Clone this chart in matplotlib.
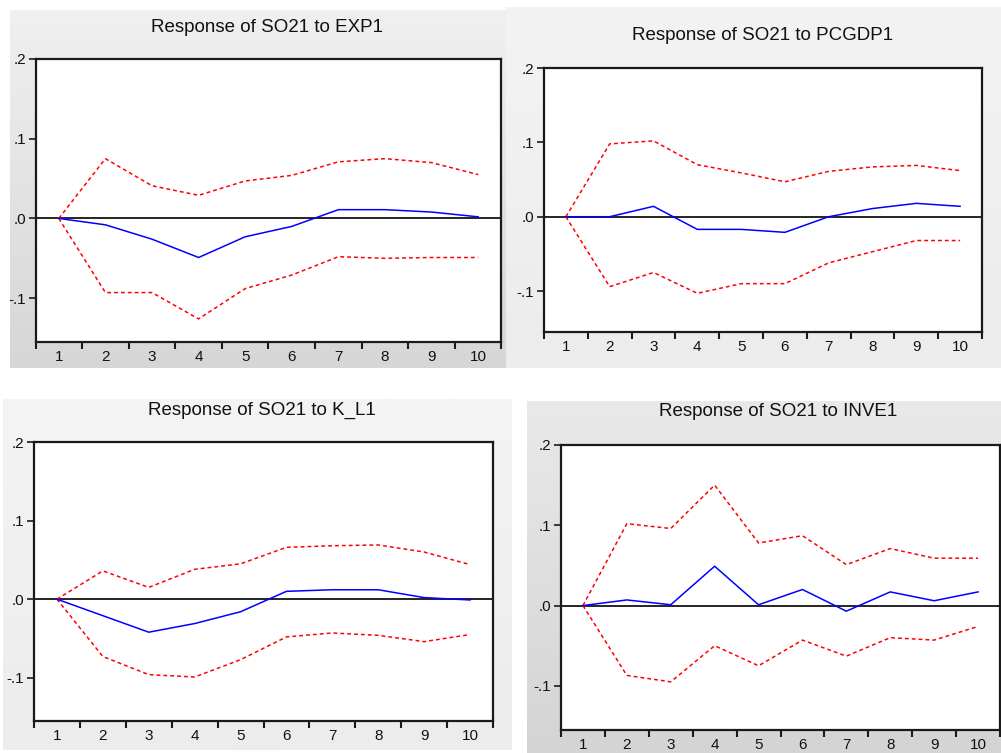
import numpy as np
import matplotlib
matplotlib.use('Agg')
import matplotlib.pyplot as plt
from matplotlib.colors import LinearSegmentedColormap
from matplotlib.patches import Rectangle

plt.rcParams['font.family'] = ['Liberation Sans', 'DejaVu Sans']

# periods 1..10
periods = [1, 2, 3, 4, 5, 6, 7, 8, 9, 10]

# response of SO21 to EXP1
exp_resp = [0.0, -0.008, -0.026, -0.049, -0.023, -0.010, 0.011, 0.011, 0.008, 0.002]
exp_upper = [0.0, 0.075, 0.041, 0.029, 0.047, 0.054, 0.071, 0.075, 0.070, 0.055]
exp_lower = [0.0, -0.093, -0.093, -0.126, -0.088, -0.071, -0.048, -0.050, -0.049, -0.049]

# response of SO21 to PCGDP1
gdp_resp = [0.0, 0.0, 0.014, -0.017, -0.017, -0.021, 0.0, 0.011, 0.018, 0.014]
gdp_upper = [0.0, 0.098, 0.102, 0.070, 0.059, 0.047, 0.061, 0.067, 0.069, 0.062]
gdp_lower = [0.0, -0.094, -0.075, -0.103, -0.090, -0.090, -0.062, -0.047, -0.032, -0.032]

# response of SO21 to K_L1
kl_resp = [0.0, -0.021, -0.042, -0.031, -0.016, 0.010, 0.012, 0.012, 0.002, -0.001]
kl_upper = [0.0, 0.036, 0.015, 0.038, 0.045, 0.066, 0.068, 0.069, 0.060, 0.044]
kl_lower = [0.0, -0.073, -0.096, -0.099, -0.077, -0.048, -0.043, -0.046, -0.054, -0.045]

# response of SO21 to INVE1
inv_resp = [0.0, 0.007, 0.001, 0.049, 0.001, 0.020, -0.007, 0.017, 0.006, 0.017]
inv_upper = [0.0, 0.102, 0.096, 0.150, 0.078, 0.087, 0.051, 0.071, 0.059, 0.059]
inv_lower = [0.0, -0.087, -0.095, -0.050, -0.075, -0.043, -0.063, -0.040, -0.043, -0.026]

titles = ['Response of SO21 to EXP1', 'Response of SO21 to PCGDP1',
          'Response of SO21 to K_L1', 'Response of SO21 to INVE1']
ytick_vals = [0.2, 0.1, 0.0, -0.1]
ytick_labels = ['.2', '.1', '.0', '-.1']

W, H = 1001, 753
fig = plt.figure(figsize=(W / 100, H / 100), dpi=100)


def px_box(l, t, r, b):
    return [l / W, 1 - b / H, (r - l) / W, (b - t) / H]


# layout of the 4 screenshots (pixels): plot box, grey background box, gradient colours, title centre
panels = [
    (titles[0], exp_resp, exp_upper, exp_lower, (35.5, 59, 501.5, 342), (10, 10, 506, 368), ('#f0f0f0', '#d6d6d6'), (267, 27)),
    (titles[1], gdp_resp, gdp_upper, gdp_lower, (544, 68, 982, 332), (506, 7, 1001, 368), ('#f3f3f3', '#ececec'), (763, 36)),
    (titles[2], kl_resp, kl_upper, kl_lower, (34, 442, 493, 721), (3, 399, 512, 750), ('#f4f4f4', '#ececec'), (262, 410)),
    (titles[3], inv_resp, inv_upper, inv_lower, (561, 445, 1000, 730), (527, 401, 1001, 753), ('#e9e9e9', '#d4d4d4'), (778, 412)),
]

grad = np.linspace(0, 1, 256).reshape(-1, 1)

for title, resp, upper, lower, pbox, bbox, colors, tpos in panels:
    # grey window background
    bg = fig.add_axes(px_box(*bbox), zorder=-1)
    cmap = LinearSegmentedColormap.from_list('bg', list(colors))
    bg.imshow(grad, aspect='auto', cmap=cmap, extent=[0, 1, 0, 1])
    bg.set_axis_off()

    ax = fig.add_axes(px_box(*pbox))
    ax.set_facecolor('white')
    ax.axhline(0, color='black', lw=1.2, zorder=2)
    ax.plot(periods, upper, color='red', lw=1.1, linestyle=(0, (2.5, 2)), zorder=3)
    ax.plot(periods, lower, color='red', lw=1.1, linestyle=(0, (2.5, 2)), zorder=3)
    ax.plot(periods, resp, color='blue', lw=1.1, zorder=4)

    ax.set_xlim(0.5, 10.5)
    ax.set_ylim(-0.155, 0.2)

    ax.set_xticks([p - 0.5 for p in periods] + [10.5])
    ax.set_xticklabels([])
    ax.set_xticks(periods, minor=True)
    ax.set_xticklabels([str(p) for p in periods], minor=True)
    ax.tick_params(axis='x', which='major', direction='out', length=5, width=1.5, color='#1a1a1a')
    ax.tick_params(axis='x', which='minor', length=0, pad=6, labelsize=11, labelcolor='#111111')

    ax.set_yticks(ytick_vals)
    ax.set_yticklabels(ytick_labels)
    ax.tick_params(axis='y', direction='out', length=5, width=1.2, pad=2, labelsize=11,
                   color='#1a1a1a', labelcolor='#111111')

    for s in ax.spines.values():
        s.set_linewidth(1.6)
        s.set_color('#1a1a1a')

    fig.text(tpos[0] / W, 1 - tpos[1] / H, title, ha='center', va='center', fontsize=13.5, color='#111111')

# the top-left screenshot is cropped at its left edge (cuts the minus sign off)
fig.add_artist(Rectangle((0, 1 - 370 / H), 10 / W, 370 / H, transform=fig.transFigure,
                         facecolor='white', edgecolor='none', zorder=10))

fig.savefig('out.png', dpi=100, facecolor='white')
